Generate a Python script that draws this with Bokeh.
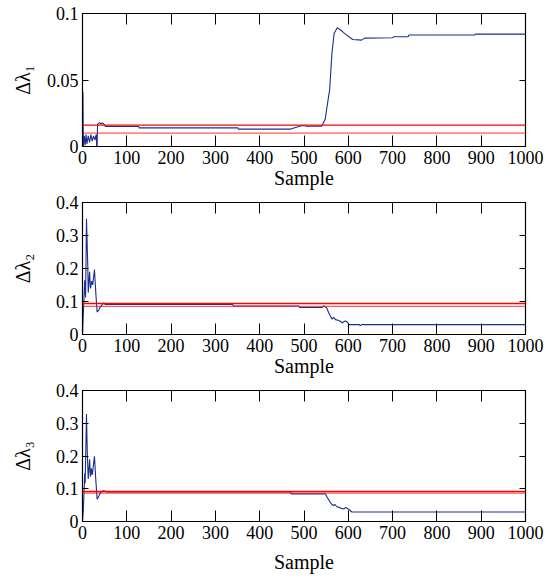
from bokeh.plotting import figure
from bokeh.models import Range1d, LinearAxis, FixedTicker, NumeralTickFormatter, CustomJSTickFormatter, Span
from bokeh.layouts import column
from bokeh.embed import file_html
from bokeh.resources import INLINE

# ---------------- data ----------------
x_ticks = [0, 100, 200, 300, 400, 500, 600, 700, 800, 900, 1000]
y1_ticks = [0, 0.05, 0.1]
y23_ticks = [0, 0.1, 0.2, 0.3, 0.4]

s1_x = [0, 1, 2, 4, 6, 8, 10, 13, 16, 19, 22, 25, 28, 31, 32, 33, 34, 38, 42, 46, 52,
        127, 128, 351, 352, 470, 490, 500, 505, 540, 548, 552, 558, 563, 568, 575, 585,
        594, 610, 630, 637, 700, 702, 735, 737, 885, 887, 1000]
s1_y = [0.0, 0.041, 0.0, 0.008, 0.001, 0.009, 0.002, 0.008, 0.003, 0.009, 0.004, 0.008, 0.005, 0.009, 0.0, 0.0, 0.0168, 0.0178, 0.0172, 0.0176, 0.0150,
        0.0150, 0.0140, 0.0140, 0.0131, 0.0131, 0.0152, 0.0158, 0.0152, 0.0152, 0.0207, 0.030, 0.043, 0.070, 0.085, 0.0893, 0.087,
        0.0843, 0.0805, 0.0800, 0.0815, 0.0818, 0.0825, 0.0825, 0.0838, 0.0838, 0.0845, 0.0845]
thr1 = [0.0161, 0.0101]

s2_x = [0, 5, 7, 9, 12, 13, 16, 18, 21, 23, 27, 30, 33, 37, 40, 44, 48, 52, 339, 341, 488, 490,
        540, 545, 551, 556, 563, 567, 571, 577, 582, 587, 590, 594, 598, 602, 625, 627, 630, 1000]
s2_y = [0.0, 0.164, 0.112, 0.351, 0.202, 0.127, 0.19, 0.14, 0.162, 0.15, 0.197, 0.127, 0.068, 0.075, 0.083, 0.09, 0.0955, 0.091, 0.091, 0.0865, 0.0865, 0.082,
        0.082, 0.0865, 0.081, 0.065, 0.047, 0.052, 0.045, 0.043, 0.040, 0.035, 0.039, 0.041, 0.037, 0.030, 0.030, 0.027, 0.030, 0.030]
thr2 = [0.094, 0.085]

s3_x = [0, 2, 5, 6, 9, 11, 13, 16, 18, 20, 22, 27, 30, 33, 37, 40, 44, 48, 55, 469, 471, 545,
        548, 552, 559, 563, 567, 570, 574, 578, 584, 590, 594, 598, 602, 608, 1000]
s3_y = [0.0, 0.038, 0.147, 0.117, 0.328, 0.2, 0.13, 0.19, 0.137, 0.162, 0.142, 0.199, 0.127, 0.068, 0.078, 0.087, 0.092, 0.094, 0.090, 0.090, 0.0845, 0.0845,
        0.085, 0.075, 0.059, 0.052, 0.049, 0.052, 0.045, 0.044, 0.040, 0.038, 0.043, 0.040, 0.036, 0.029, 0.029]
thr3 = [0.092, 0.087]

FONT = "Liberation Serif"
BLUE = "#1a2e8f"


def make_panel(xs, ys, thr, y_end, y_ticks, ylabel, frame_h, b_top, b_bottom, ylab_standoff, xlab_standoff):
    p = figure(frame_width=443, frame_height=frame_h,
               x_range=Range1d(0, 1000), y_range=Range1d(0, y_end),
               output_backend="svg", toolbar_location=None,
               min_border_left=82, min_border_right=20,
               min_border_top=b_top, min_border_bottom=b_bottom)
    p.grid.visible = False
    p.outline_line_color = "black"
    p.outline_line_width = 1.2
    p.background_fill_color = "white"
    p.border_fill_color = "white"

    p.line(xs, ys, line_color=BLUE, line_width=1.1)
    for i, t in enumerate(thr):
        p.add_layout(Span(location=t, dimension="width", line_color="red",
                          line_width=1.3, line_alpha=1.0 if i == 0 else 0.65))

    xa = p.xaxis[0]
    xa.ticker = FixedTicker(ticks=x_ticks)
    xa.formatter = NumeralTickFormatter(format="0")
    xa.axis_label = "Sample"
    ya = p.yaxis[0]
    ya.ticker = FixedTicker(ticks=y_ticks)
    ya.formatter = NumeralTickFormatter(format="0.[00]")
    ya.axis_label = ylabel
    ya.axis_label_standoff = ylab_standoff
    xa.axis_label_standoff = xlab_standoff
    xa.major_tick_in = 11
    ya.major_tick_in = 6
    for ax in (xa, ya):
        ax.major_tick_out = 0
        ax.minor_tick_line_color = None
        ax.major_tick_line_color = "black"
        ax.axis_line_color = "black"
        ax.major_label_text_font = FONT
        ax.major_label_text_font_size = "18px"
        ax.major_label_text_color = "black"
        ax.major_label_standoff = 4
        ax.axis_label_text_font = FONT
        ax.axis_label_text_font_size = "20px"
        ax.axis_label_text_font_style = "normal"
        ax.axis_label_text_color = "black"

    blank = CustomJSTickFormatter(code="return ''")
    top = LinearAxis(ticker=FixedTicker(ticks=x_ticks), formatter=blank,
                     major_tick_in=11, major_tick_out=0, minor_tick_line_color=None,
                     major_label_standoff=0, major_label_text_font_size="0px",
                     axis_line_color=None)
    right = LinearAxis(ticker=FixedTicker(ticks=y_ticks), formatter=blank,
                       major_tick_in=6, major_tick_out=0, minor_tick_line_color=None,
                       major_label_standoff=0, major_label_text_font_size="0px",
                       axis_line_color=None)
    p.add_layout(top, "above")
    p.add_layout(right, "right")
    return p


p1 = make_panel(s1_x, s1_y, thr1, 0.1, y1_ticks, "Δλ₁", 133, 13, 46, 10, 0)
p2 = make_panel(s2_x, s2_y, thr2, 0.4, y23_ticks, "Δλ₂", 132, 10, 46, 19, 0)
p3 = make_panel(s3_x, s3_y, thr3, 0.4, y23_ticks, "Δλ₃", 131, 10, 50, 19, 9)

layout = column(p1, p2, p3, spacing=0)
open("out.html", "w").write(file_html(layout, INLINE))
